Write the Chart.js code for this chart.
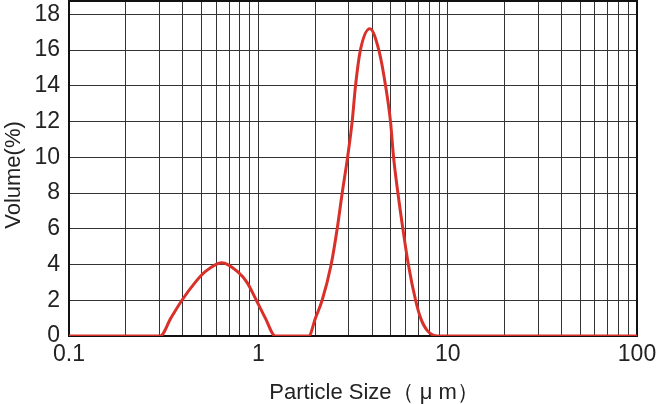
<!DOCTYPE html>
<html>
<head>
<meta charset="utf-8">
<script src="https://cdn.jsdelivr.net/npm/chart.js@4.4.0/dist/chart.umd.min.js"></script>
<style>
  html, body { margin: 0; padding: 0; background: #fff; }
  #wrap { width: 658px; height: 404px; }
</style>
</head>
<body>
<div id="wrap"><canvas id="psd"></canvas></div>
<script>
// particle size (um) and volume (%)
var sizes  = [0.1, 0.303, 0.345, 0.395, 0.464, 0.524, 0.642, 0.777, 0.871, 0.976, 1.089, 1.23,
              1.846, 2.003, 2.173, 2.425, 2.609, 2.773, 2.96, 3.13, 3.26, 3.46, 3.88,
              4.33, 4.70, 4.99, 5.18, 5.46, 5.80, 6.20, 6.77, 7.20, 7.81, 8.82, 100];
var volume = [0, 0, 1, 2, 3, 3.6, 4.1, 3.6, 3, 2, 1, 0,
              0, 1, 2, 4, 6, 8, 10, 12, 14, 16, 17.2,
              16, 14, 12, 10, 8, 6, 4, 2, 1, 0.3, 0, 0];

var xGrid = [0.1, 0.2, 0.3, 0.4, 0.5, 0.6, 0.7, 0.8, 0.9,
             1, 2, 3, 4, 5, 6, 7, 8, 9,
             10, 20, 30, 40, 50, 60, 70, 80, 90, 100];
var xLabels = [0.1, 1, 10, 100];
var yTicks = [0, 2, 4, 6, 8, 10, 12, 14, 16, 18];

var fontFam = '"Liberation Sans", Arial, sans-serif';

var points = [];
for (var i = 0; i < sizes.length; i++) {
  points.push({ x: sizes[i], y: volume[i] });
}

// frame round the plot and the axis titles
var frame = {
  id: "frame",
  beforeDatasetsDraw: function (chart) {
    var a = chart.chartArea, ctx = chart.ctx;
    ctx.save();
    ctx.strokeStyle = "#111";
    ctx.lineWidth = 2;
    ctx.strokeRect(a.left, a.top, a.right - a.left, a.bottom - a.top);
    ctx.restore();
  },
  afterDraw: function (chart) {
    var ctx = chart.ctx;
    ctx.save();
    ctx.fillStyle = "#222";
    ctx.font = "22px " + fontFam;
    ctx.textAlign = "center";
    ctx.textBaseline = "alphabetic";
    ctx.fillText("Particle Size\uFF08 \u03BC m\uFF09", 374, 399);
    ctx.translate(20, 175);
    ctx.rotate(-Math.PI / 2);
    ctx.fillText("Volume(%)", 0, 0);
    ctx.restore();
  }
};

new Chart(document.getElementById("psd"), {
  type: "line",
  data: {
    datasets: [{
      label: "Volume",
      data: points,
      borderColor: "#d9302a",
      borderWidth: 3,
      pointRadius: 0,
      cubicInterpolationMode: "monotone",
      fill: false
    }]
  },
  options: {
    responsive: true,
    maintainAspectRatio: false,
    animation: false,
    layout: { padding: { top: 1, right: 21, left: 0, bottom: 0 } },
    plugins: { legend: { display: false }, tooltip: { enabled: false } },
    scales: {
      x: {
        type: "logarithmic",
        min: 0.1,
        max: 100,
        afterBuildTicks: function (scale) {
          scale.ticks = xGrid.map(function (v) { return { value: v }; });
        },
        afterFit: function (scale) {
          scale.height = 68;
          scale.paddingLeft = 0;
          scale.paddingRight = 0;
        },
        grid: { color: "#333", lineWidth: 1, drawTicks: false },
        border: { display: false },
        ticks: {
          autoSkip: false,
          maxRotation: 0,
          padding: 5,
          color: "#222",
          font: { family: fontFam, size: 23 },
          callback: function (v) {
            return xLabels.indexOf(v) >= 0 ? String(v) : "";
          }
        }
      },
      y: {
        min: 0,
        max: 18.75,
        afterBuildTicks: function (scale) {
          scale.ticks = yTicks.map(function (v) { return { value: v }; });
        },
        afterFit: function (scale) {
          scale.width = 69;
          scale.paddingTop = 0;
          scale.paddingBottom = 0;
        },
        grid: { color: "#333", lineWidth: 1, drawTicks: false },
        border: { display: false },
        ticks: {
          padding: 9,
          color: "#222",
          font: { family: fontFam, size: 23 }
        }
      }
    }
  },
  plugins: [frame]
});
</script>
</body>
</html>
